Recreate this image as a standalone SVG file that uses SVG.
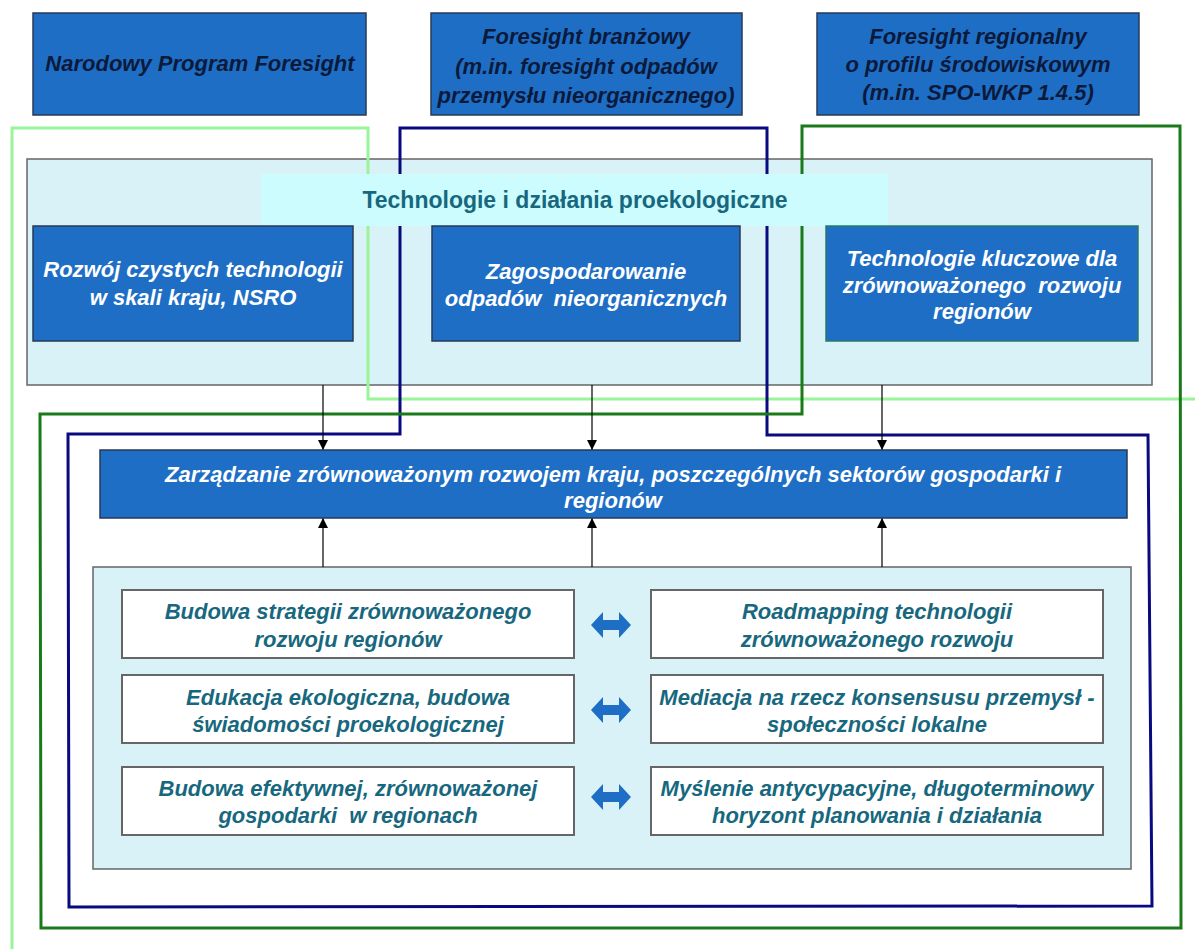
<svg xmlns="http://www.w3.org/2000/svg" width="1195" height="949" viewBox="0 0 1195 949">
<style>
.bx{fill:#1e6ec6;stroke:#2a3a55;stroke-width:1.5}
.panel{fill:#d8f2f7;stroke:#666;stroke-width:1.5}
.wb{fill:#ffffff;stroke:#666;stroke-width:2}
.t{font-family:"Liberation Sans",Arial,sans-serif;font-weight:bold;font-style:italic;font-size:22px;text-anchor:middle;white-space:pre}
.tk{fill:#0b1a3a}
.tw{fill:#ffffff}
.tt{fill:#17687e}
.fr{fill:none;stroke-width:3;stroke-linejoin:miter}
.ar{stroke:#000;stroke-width:1.2;fill:none;marker-end:url(#ah)}
</style>
<defs>
<marker id="ah" viewBox="0 0 10 10" refX="10" refY="5" markerWidth="10" markerHeight="10" markerUnits="userSpaceOnUse" orient="auto">
<path d="M0,0 L10,5 L0,10 Z" fill="#000"/>
</marker>
<path id="dbl" d="M-20,0 L-8,-13 L-8,-5 L8,-5 L8,-13 L20,0 L8,13 L8,5 L-8,5 L-8,13 Z" fill="#1e6ec6"/>
</defs>
<rect width="1195" height="949" fill="#ffffff"/>

<g id="top-panel"><rect class="panel" x="27" y="159" width="1125" height="226"/></g>
<g id="bottom-panel"><rect class="panel" x="93" y="567" width="1038" height="302"/></g>

<g id="frames">
<polyline class="fr" stroke="#9af59a" points="12,949 12,128 368,128 368,399 1195,399"/>
<polygon class="fr" stroke="#0a0a80" points="400,128 767,128 767,435 1148,435 1152,906 69,907 68,434 400,434"/>
<polygon class="fr" stroke="#1a7a1a" points="802,126 1180,126 1181,928 41,928 40,414 802,414"/>
</g>

<g id="connectors">
<line class="ar" x1="323" y1="385" x2="323" y2="450"/>
<line class="ar" x1="592" y1="385" x2="592" y2="450"/>
<line class="ar" x1="882" y1="385" x2="882" y2="450"/>
<line class="ar" x1="323" y1="567" x2="323" y2="518"/>
<line class="ar" x1="592" y1="567" x2="592" y2="518"/>
<line class="ar" x1="882" y1="567" x2="882" y2="518"/>
<use href="#dbl" x="611" y="625"/>
<use href="#dbl" x="611" y="710"/>
<use href="#dbl" x="611" y="797"/>
</g>

<g id="n-narodowy"><rect class="bx" x="33" y="13" width="333" height="102"/>
<text class="t tk" x="200" y="71">Narodowy Program Foresight</text></g>
<g id="n-branzowy"><rect class="bx" x="431" y="13" width="311" height="102"/>
<text class="t tk" x="586" y="44">Foresight branżowy</text>
<text class="t tk" x="586" y="74">(m.in. foresight odpadów</text>
<text class="t tk" x="586" y="103">przemysłu nieorganicznego)</text></g>
<g id="n-regionalny"><rect class="bx" x="817" y="13" width="322" height="102"/>
<text class="t tk" x="978" y="44">Foresight regionalny</text>
<text class="t tk" x="978" y="72">o profilu środowiskowym</text>
<text class="t tk" x="978" y="100">(m.in. SPO-WKP 1.4.5)</text></g>

<g id="n-banner"><rect x="261" y="174" width="627" height="52" fill="#ccfcfd"/>
<text x="575" y="208" font-family="'Liberation Sans',Arial,sans-serif" font-weight="bold" font-size="23" text-anchor="middle" fill="#17687e">Technologie i działania proekologiczne</text></g>

<g id="n-rozwoj"><rect class="bx" x="33" y="226" width="320" height="115"/>
<text class="t tw" x="193" y="277">Rozwój czystych technologii</text>
<text class="t tw" x="193" y="305">w skali kraju, NSRO</text></g>
<g id="n-zagosp"><rect class="bx" x="432" y="226" width="308" height="115"/>
<text class="t tw" x="586" y="279">Zagospodarowanie</text>
<text class="t tw" x="586" y="306">odpadów  nieorganicznych</text></g>
<g id="n-kluczowe"><rect class="bx" x="826" y="226" width="312" height="115" style="stroke:#2a7a6a"/>
<text class="t tw" x="982" y="266">Technologie kluczowe dla</text>
<text class="t tw" x="982" y="293">zrównoważonego  rozwoju</text>
<text class="t tw" x="982" y="319">regionów</text></g>

<g id="n-zarzadzanie"><rect class="bx" x="100" y="450" width="1027" height="68"/>
<text class="t tw" x="613" y="482">Zarządzanie zrównoważonym rozwojem kraju, poszczególnych sektorów gospodarki i</text>
<text class="t tw" x="613" y="508">regionów</text></g>

<g id="n-budowa-strategii"><rect class="wb" x="122" y="590" width="452" height="68"/>
<text class="t tt" x="348" y="619">Budowa strategii zrównoważonego</text>
<text class="t tt" x="348" y="647">rozwoju regionów</text></g>
<g id="n-roadmapping"><rect class="wb" x="651" y="590" width="452" height="68"/>
<text class="t tt" x="877" y="619">Roadmapping technologii</text>
<text class="t tt" x="877" y="647">zrównoważonego rozwoju</text></g>
<g id="n-edukacja"><rect class="wb" x="122" y="675" width="452" height="68"/>
<text class="t tt" x="348" y="705">Edukacja ekologiczna, budowa</text>
<text class="t tt" x="348" y="732">świadomości proekologicznej</text></g>
<g id="n-mediacja"><rect class="wb" x="651" y="675" width="452" height="68"/>
<text class="t tt" x="877" y="705">Mediacja na rzecz konsensusu przemysł -</text>
<text class="t tt" x="877" y="732">społeczności lokalne</text></g>
<g id="n-budowa-efekt"><rect class="wb" x="122" y="767" width="452" height="68"/>
<text class="t tt" x="348" y="796">Budowa efektywnej, zrównoważonej</text>
<text class="t tt" x="348" y="823">gospodarki  w regionach</text></g>
<g id="n-myslenie"><rect class="wb" x="651" y="767" width="452" height="68"/>
<text class="t tt" x="877" y="796">Myślenie antycypacyjne, długoterminowy</text>
<text class="t tt" x="877" y="823">horyzont planowania i działania</text></g>
</svg>
